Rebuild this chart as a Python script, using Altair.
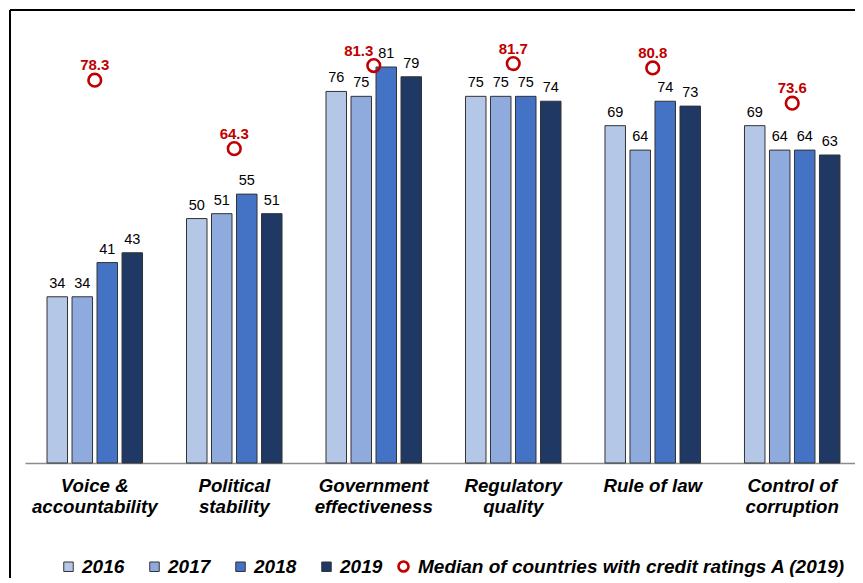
import altair as alt
import pandas as pd

categories = ["Voice & accountability", "Political stability", "Government effectiveness",
              "Regulatory quality", "Rule of law", "Control of corruption"]
axis_lines = [["Voice &", "accountability"], ["Political", "stability"],
              ["Government", "effectiveness"], ["Regulatory", "quality"],
              ["Rule of law"], ["Control of", "corruption"]]
years = ["2016", "2017", "2018", "2019"]
v2016 = [34, 50, 76, 75, 69, 69]
v2017 = [34, 51, 75, 75, 64, 64]
v2018 = [41, 55, 81, 75, 74, 64]
v2019 = [43, 51, 79, 74, 73, 63]
median_2019 = [78.3, 64.3, 81.3, 81.7, 80.8, 73.6]
median_name = "Median of countries with credit ratings A (2019)"
bar_colors = ["#B4C7E7", "#8FAADC", "#4472C4", "#203864"]
red = "#C00000"
FONT = "Liberation Sans, Arial, sans-serif"

series = {"2016": v2016, "2017": v2017, "2018": v2018, "2019": v2019}
rows = []
for y in years:
    for c, v in zip(categories, series[y]):
        rows.append({"category": c, "year": y, "value": v})
bars_df = pd.DataFrame(rows)
med_df = pd.DataFrame({"category": categories, "median": median_2019,
                       "series": [median_name] * len(categories)})

# label expression for multi-line axis labels
expr = "[datum.value]"
for c, lines in reversed(list(zip(categories, axis_lines))):
    arr = "[" + ",".join("'" + l + "'" for l in lines) + "]"
    expr = f"datum.value == '{c}' ? {arr} : ({expr})"

W, H = 830, 440
xscale = alt.Scale(domain=categories, range=[0, 837], paddingInner=0.283, paddingOuter=0.1417)
yscale = alt.Scale(domain=[0, 90], nice=False)
off_scale = alt.Scale(paddingInner=0.18, paddingOuter=0.09)

x_enc = alt.X("category:N", scale=xscale, sort=categories, title=None,
              axis=alt.Axis(labelExpr=expr, labelAngle=0, ticks=False, grid=False,
                            domainColor="#8c8c8c", domainWidth=1.5,
                            labelFont=FONT, labelFontSize=18.7, labelFontWeight="bold",
                            labelFontStyle="italic", labelColor="#000000",
                            labelLineHeight=21, labelPadding=13))
x_plain = alt.X("category:N", scale=xscale, sort=categories, title=None)
y_enc = alt.Y("value:Q", scale=yscale, axis=None)
y_med = alt.Y("median:Q", scale=yscale, axis=None)

legend_text = dict(labelFont=FONT, labelFontSize=19, labelFontWeight="bold",
                   labelFontStyle="italic", labelColor="#000000", padding=0)

bars = alt.Chart(bars_df).mark_bar(stroke="#333333", strokeWidth=1).encode(
    x=x_enc,
    xOffset=alt.XOffset("year:N", sort=years, scale=off_scale),
    y=y_enc,
    fill=alt.Fill("year:N", sort=years, scale=alt.Scale(domain=years, range=bar_colors),
                  legend=alt.Legend(title=None, orient="none", legendX=34, legendY=534,
                                    direction="horizontal", symbolType="square", symbolSize=90,
                                    symbolStrokeColor="#333333", symbolStrokeWidth=1,
                                    labelOffset=4, columnPadding=20, **legend_text)),
)

bar_labels = alt.Chart(bars_df).mark_text(font=FONT, fontSize=14.5, color="#000000",
                                          baseline="alphabetic", dy=-9).encode(
    x=x_plain,
    xOffset=alt.XOffset("year:N", sort=years, scale=off_scale),
    y=y_enc,
    text="value:Q",
)

points = alt.Chart(med_df).mark_point(shape="circle", filled=False, size=160, strokeWidth=2.6,
                                      opacity=1).encode(
    x=x_plain,
    y=y_med,
    stroke=alt.Stroke("series:N", scale=alt.Scale(range=[red]),
                      legend=alt.Legend(title=None, orient="none", legendX=369, legendY=534,
                                        symbolType="circle", symbolSize=100, symbolStrokeWidth=2.6,
                                        symbolOpacity=1, labelOffset=5, labelLimit=600,
                                        **legend_text)),
)

med_text_common = dict(font=FONT, fontSize=15, fontWeight="bold", color=red, baseline="alphabetic", dy=-10)
med_labels = alt.Chart(med_df).mark_text(**med_text_common).encode(
    x=x_plain,
    y=y_med,
    text=alt.Text("median:Q", format=".1f"),
).transform_filter(alt.datum.category != "Government effectiveness")

med_label_shift = alt.Chart(med_df).mark_text(dx=-15, **med_text_common).encode(
    x=x_plain,
    y=y_med,
    text=alt.Text("median:Q", format=".1f"),
).transform_filter(alt.datum.category == "Government effectiveness")

frame_data = alt.Data(values=[{"k": 1}])
frame_left = alt.Chart(frame_data).mark_rule(color="#000000", strokeWidth=2).encode(
    x=alt.value(-15), y=alt.value(-13), y2=alt.value(H + 200))
frame_top = alt.Chart(frame_data).mark_rule(color="#000000", strokeWidth=2).encode(
    x=alt.value(-15), x2=alt.value(W), y=alt.value(-13))

chart = alt.layer(bars, bar_labels, points, med_labels, med_label_shift, frame_left, frame_top).properties(
    width=W, height=H,
    autosize=alt.AutoSizeParams(type="none"),
    padding={"left": 17, "top": 15, "right": 0, "bottom": 115},
    background="#ffffff",
).configure_view(stroke=None)

chart.save("out.html", embed_options={"renderer": "svg", "actions": False})
